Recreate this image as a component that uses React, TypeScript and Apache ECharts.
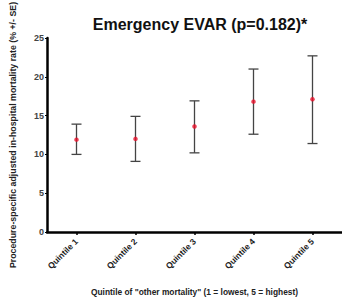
import React, { useEffect, useRef } from "react";
import * as echarts from "echarts";

const categories = ["Quintile 1", "Quintile 2", "Quintile 3", "Quintile 4", "Quintile 5"];
const means = [11.9, 12.0, 13.6, 16.8, 17.1];
const lowers = [10.0, 9.1, 10.2, 12.6, 11.4];
const uppers = [13.9, 14.9, 16.9, 21.0, 22.7];
const yTicks = [0, 5, 10, 15, 20, 25];

export default function App() {
  const ref = useRef<HTMLDivElement>(null);
  useEffect(() => {
    const chart = echarts.init(ref.current!, undefined, { renderer: "svg" });
    const font = "Liberation Sans, Arial, sans-serif";
    chart.setOption({
      animation: false,
      title: {
        text: "Emergency EVAR (p=0.182)*",
        left: 195,
        textAlign: "center",
        top: 11,
        textStyle: { fontFamily: font, fontSize: 16, fontWeight: "bold", color: "#111" },
      },
      grid: { left: 46, right: 0, top: 38, bottom: 64 },
      xAxis: {
        type: "category",
        data: categories,
        axisLine: { lineStyle: { color: "#000", width: 2.5 } },
        axisTick: { show: true, alignWithLabel: true, length: 3, lineStyle: { color: "#000", width: 1.5 } },
        axisLabel: {
          rotate: 45,
          fontFamily: font,
          fontSize: 8.5,
          fontWeight: "bold",
          color: "#222",
          margin: 8,
        },
        name: 'Quintile of "other mortality" (1 = lowest, 5 = highest)',
        nameLocation: "middle",
        nameGap: 56,
        nameTextStyle: { fontFamily: font, fontSize: 8.4, fontWeight: "bold", color: "#222" },
      },
      yAxis: {
        type: "value",
        min: 0,
        max: 25,
        interval: 5,
        splitLine: { show: false },
        axisLine: { show: true, lineStyle: { color: "#000", width: 2.5 } },
        axisTick: { show: true, length: 2, lineStyle: { color: "#000", width: 1 } },
        axisLabel: {
          fontFamily: font,
          fontSize: 9,
          fontWeight: "bold",
          color: "#444",
          margin: 3,
          formatter: (v: number) => (yTicks.includes(v) ? String(v) : ""),
        },
        name: "Procedure-specific adjusted in-hospital mortality rate (% +/- SE)",
        nameLocation: "middle",
        nameRotate: 90,
        nameGap: 30,
        nameTextStyle: { fontFamily: font, fontSize: 8.8, fontWeight: "bold", color: "#222" },
      },
      series: [
        {
          type: "custom",
          data: categories.map((_, i) => [i, lowers[i], uppers[i]]),
          renderItem: (params: any, api: any) => {
            const x = api.value(0);
            const lo = api.coord([x, api.value(1)]);
            const hi = api.coord([x, api.value(2)]);
            const hw = 5;
            const style = { stroke: "#444", lineWidth: 1.3 };
            return {
              type: "group",
              children: [
                { type: "line", shape: { x1: lo[0], y1: lo[1], x2: hi[0], y2: hi[1] }, style },
                { type: "line", shape: { x1: hi[0] - hw, y1: hi[1], x2: hi[0] + hw, y2: hi[1] }, style },
                { type: "line", shape: { x1: lo[0] - hw, y1: lo[1], x2: lo[0] + hw, y2: lo[1] }, style },
              ],
            };
          },
          z: 2,
        },
        {
          type: "scatter",
          data: means,
          symbol: "circle",
          symbolSize: 4.5,
          itemStyle: { color: "#e8102a" },
          z: 3,
        },
      ],
    });
    return () => chart.dispose();
  }, []);
  return <div ref={ref} style={{ width: 342, height: 301, position: "absolute", left: 0, top: 0, background: "#fff" }} />;
}
